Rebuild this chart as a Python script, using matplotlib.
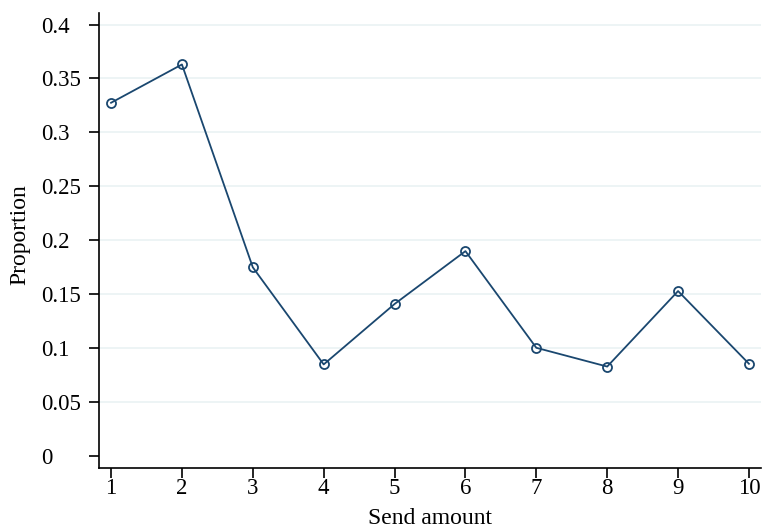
import matplotlib
matplotlib.use("Agg")
import matplotlib.pyplot as plt

# proportion of each send amount
send_amount = [1, 2, 3, 4, 5, 6, 7, 8, 9, 10]
proportion = [0.3275, 0.363, 0.175, 0.085, 0.141, 0.190, 0.1004, 0.083, 0.153, 0.0856]
y_ticks = [0, 0.05, 0.1, 0.15, 0.2, 0.25, 0.3, 0.35, 0.4]
y_tick_labels = ["0", "0.05", "0.1", "0.15", "0.2", "0.25", "0.3", "0.35", "0.4"]

plt.rcParams["font.family"] = ["Liberation Serif", "DejaVu Serif"]

fig = plt.figure(figsize=(7.63, 5.28), dpi=100)
ax = fig.add_axes([99 / 763, 1 - 468 / 528, (761 - 99) / 763, (468 - 13) / 528])

line_color = "#1a476f"
ax.plot(send_amount, proportion, color=line_color, linewidth=1.3,
        marker="o", markersize=6.5, markerfacecolor="none",
        markeredgecolor=line_color, markeredgewidth=1.3, zorder=3)

ax.set_xlim(0.83, 10.17)
ax.set_ylim(-0.011, 0.4107)
ax.set_xticks(send_amount)
ax.set_yticks(y_ticks)
ax.set_yticklabels(y_tick_labels)

for y in y_ticks[1:]:
    ax.axhline(y, color="#eaf2f3", linewidth=1.2, zorder=1)

ax.spines["top"].set_visible(False)
ax.spines["right"].set_visible(False)
ax.spines["left"].set_linewidth(1.2)
ax.spines["bottom"].set_linewidth(1.2)
ax.tick_params(axis="both", direction="out", length=7, width=1.2,
               labelsize=16.5, colors="black")
ax.tick_params(axis="x", pad=0)
# Stata puts the y labels flush left
ax.tick_params(axis="y", pad=34.5)
for lab in ax.get_yticklabels():
    lab.set_horizontalalignment("left")

ax.set_xlabel("Send amount", fontsize=17)
ax.set_ylabel("Proportion", fontsize=17)
ax.xaxis.set_label_coords(0.5, -0.088)
ax.yaxis.set_label_coords(-0.104, 0.512)

fig.savefig("out.png", dpi=100, facecolor="white")
